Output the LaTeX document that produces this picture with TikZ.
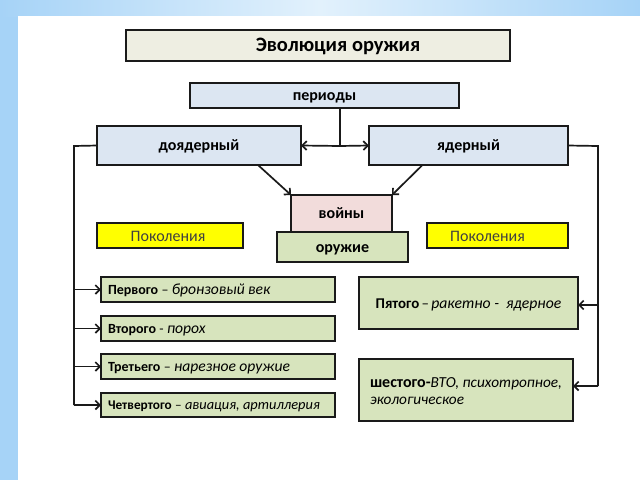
\documentclass[tikz,border=0pt]{standalone}
\usepackage{fontspec}
\setmainfont{Carlito}
\usetikzlibrary{arrows.meta}
\definecolor{bgblue}{HTML}{A6D3F7}
\definecolor{bglight}{HTML}{E2F1FC}
\definecolor{titlefill}{HTML}{EEEEE2}
\definecolor{bluefill}{HTML}{DCE6F2}
\definecolor{pinkfill}{HTML}{F2DCDB}
\definecolor{greenfill}{HTML}{D7E4BD}
\definecolor{yellowfill}{HTML}{FFFF00}
\definecolor{linecol}{HTML}{1A1A1A}
\definecolor{pokcol}{HTML}{404040}
\newcommand{\fsz}[1]{\fontsize{#1}{#1}\selectfont}
\begin{document}
\begin{tikzpicture}[x=1pt,y=-1pt,
  box/.style={draw=linecol, line width=1.7pt, inner sep=0pt, outer sep=0pt},
  ctr/.style={text height=#1, text depth=0pt},
  ctr/.default=10pt,
  lbl/.style={box, ctr, font=\fsz{16}\bfseries},
  gen/.style={box, ctr=9pt, fill=greenfill, text width=#1, align=left},
  arr/.style={draw=linecol, line width=1.7pt, -{Straight Barb[length=4.5pt,width=9pt,line width=1.7pt]}},
  ln/.style={draw=linecol, line width=1.7pt}]
\useasboundingbox (0,0) rectangle (640,480);
% background
\fill[bgblue] (0,0) rectangle (18,480);
\shade[left color=bgblue, right color=bglight] (0,0) rectangle (320,16);
\shade[left color=bglight, right color=bgblue] (320,0) rectangle (640,16);
\fill[white] (18,16) rectangle (640,480);
% nodes
\node[box, ctr=12.5pt, fill=titlefill, minimum width=384, minimum height=31, font=\fsz{20.5}\bfseries] (title) at (318,45.5) {\hspace*{40pt}Эволюция оружия};
\node[lbl, fill=bluefill, minimum width=269, minimum height=25] (periody) at (324.5,95.5) {периоды};
\node[lbl, fill=bluefill, minimum width=204, minimum height=39] (doyad) at (199,145.5) {доядерный};
\node[lbl, fill=bluefill, minimum width=199, minimum height=39] (yad) at (468.5,145.5) {ядерный};
\node[lbl, fill=pinkfill, minimum width=101, minimum height=37] (voiny) at (341.5,213.5) {войны};
\node[lbl, fill=greenfill, minimum width=131, minimum height=30] (oruzhie) at (342.5,247) {оружие};
\node[box, ctr=11pt, fill=yellowfill, minimum width=146, minimum height=25, font=\fsz{16}, text=pokcol] (pokL) at (170,235.5) {\hspace*{-4pt}Поколения};
\node[box, ctr=11pt, fill=yellowfill, minimum width=141, minimum height=25, font=\fsz{16}, text=pokcol] (pokR) at (497.5,235.5) {\hspace*{-20pt}Поколения};
\node[gen=220pt, minimum width=234, minimum height=25] (g1) at (218,289.5) {{\fsz{14}\bfseries Первого} {\fsz{14}–} \textit{\fsz{15.6}бронзовый век}};
\node[gen=220pt, minimum width=234, minimum height=25] (g2) at (218,328.5) {{\fsz{14}\bfseries Второго} {\fsz{14}-} \textit{\fsz{15.6}порох}};
\node[gen=220pt, minimum width=234, minimum height=25] (g3) at (218,366.5) {{\fsz{14}\bfseries Третьего} {\fsz{14}–} \textit{\fsz{15.6}нарезное оружие}};
\node[gen=220pt, minimum width=234, minimum height=24] (g4) at (218,405) {{\fsz{13.3}\bfseries Четвертого} {\fsz{13.3}–} \textit{\fsz{14.4}авиация, артиллерия}};
\node[box, ctr=10pt, fill=greenfill, minimum width=219, minimum height=52] (g5) at (468.5,303) {{\fsz{14.9}\bfseries Пятого} {\fsz{14.9}–} \textit{\fsz{15.7}ракетно -\ \ ядерное}};
\node[box, fill=greenfill, minimum width=214, minimum height=62, align=left, font=\fontsize{15.3}{17}\selectfont] (g6) at (466,390) {\rule{0pt}{13pt}{\fsz{16}\bfseries шестого-}\textit{ВТО, психотропное,}\\\textit{экологическое}};
% connectors
\coordinate (j) at (340,146);
\draw[ln] (j |- periody.south) -- (j);
\draw[arr] (j) -- (doyad.east);
\draw[arr] (j) -- (yad.west);
\draw[arr] ([xshift=59pt]doyad.south) -- (voiny.north west);
\draw[arr] ([xshift=-46pt]yad.south) -- (voiny.north east);
\coordinate (L) at (74,146);
\draw[ln] (doyad.west) -- (L) -- (L |- g4.west);
\draw[arr] (L |- g1.west) -- (g1.west);
\draw[arr] (L |- g2.west) -- (g2.west);
\draw[arr] (L |- g3.west) -- (g3.west);
\draw[arr] (L |- g4.west) -- (g4.west);
\coordinate (R) at (598,146);
\draw[ln] (yad.east) -- (R) -- ([yshift=4pt]R |- g6.east);
\draw[arr] ([yshift=-2pt]R |- g5.east) -- ([yshift=-2pt]g5.east);
\draw[arr] ([yshift=4pt]R |- g6.east) -- ([yshift=4pt]g6.east);
\end{tikzpicture}
\end{document}
